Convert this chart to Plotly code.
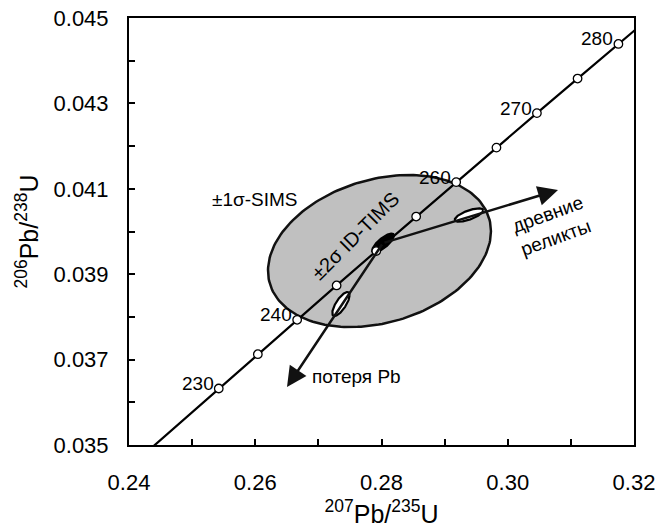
import numpy as np
import plotly.graph_objects as go

# ---- data ----
# Concordia curve: age (Ma), 207Pb/235U, 206Pb/238U
conc_age = [220, 230, 235, 240, 245, 250, 255, 260, 265, 270, 275, 280, 285]
conc_x = [0.24191, 0.25422, 0.26041, 0.26664, 0.27289, 0.27917, 0.28549,
          0.29183, 0.29821, 0.30462, 0.31106, 0.31753, 0.32404]
conc_y = [0.034717, 0.036323, 0.037127, 0.037932, 0.038737, 0.039542, 0.040350,
          0.041157, 0.041965, 0.042773, 0.043582, 0.044392, 0.045203]
marker_ages = [230, 235, 240, 245, 250, 255, 260, 265, 270, 275, 280]
label_ages = [230, 240, 260, 270, 280]

# Error ellipses: centre x, centre y, sigma x, sigma y, rho
sims_ell = [0.27968, 0.039543, 0.01766, 0.00178, 0.26]
tims_ell = [0.28024, 0.03973, 0.001774, 0.0002295, 0.767]
relic_ell = [0.29386, 0.040386, 0.00225, 0.000156, 0.697]
loss_ell = [0.27358, 0.038302, 0.001378, 0.000282, 0.746]

# Arrow tips
relic_tip = [0.30796, 0.040972]
loss_tip = [0.26503, 0.036358]

x_ticks = [0.24, 0.26, 0.28, 0.30, 0.32]
y_ticks = [0.035, 0.037, 0.039, 0.041, 0.043, 0.045]

FONT = "Liberation Sans, Arial, sans-serif"


def ellipse_pts(e, n=200):
    cx, cy, sx, sy, rho = e
    t = np.linspace(0, 2 * np.pi, n)
    xs = cx + sx * np.cos(t)
    ys = cy + sy * (rho * np.cos(t) + np.sqrt(1 - rho ** 2) * np.sin(t))
    return xs, ys


fig = go.Figure()

# big SIMS ellipse
xs, ys = ellipse_pts(sims_ell)
fig.add_trace(go.Scatter(x=xs, y=ys, mode="lines", fill="toself",
                         fillcolor="rgb(192,192,192)",
                         line=dict(color="#111", width=2.5), hoverinfo="skip"))

# concordia line
fig.add_trace(go.Scatter(x=conc_x, y=conc_y, mode="lines",
                         line=dict(color="#000", width=2.2), hoverinfo="skip"))

# small ellipses (white)
for e in (relic_ell, loss_ell):
    xs, ys = ellipse_pts(e)
    fig.add_trace(go.Scatter(x=xs, y=ys, mode="lines", fill="toself",
                             fillcolor="white",
                             line=dict(color="#000", width=2.2), hoverinfo="skip"))
# black TIMS ellipse
xs, ys = ellipse_pts(tims_ell)
fig.add_trace(go.Scatter(x=xs, y=ys, mode="lines", fill="toself",
                         fillcolor="#000",
                         line=dict(color="#000", width=1.5), hoverinfo="skip"))

# concordia markers
mx = [conc_x[conc_age.index(a)] for a in marker_ages]
my = [conc_y[conc_age.index(a)] for a in marker_ages]
fig.add_trace(go.Scatter(x=mx, y=my, mode="markers",
                         marker=dict(symbol="circle", size=8.5, color="white",
                                     line=dict(color="#000", width=1.3)),
                         hoverinfo="skip"))

annotations = []
# age labels
for a in label_ages:
    i = conc_age.index(a)
    annotations.append(dict(x=conc_x[i], y=conc_y[i], xref="x", yref="y",
                            text=str(a), showarrow=False, xanchor="right",
                            yanchor="middle", xshift=-3, yshift=5,
                            font=dict(family=FONT, size=19, color="#000")))

# arrows
for tip in (relic_tip, loss_tip):
    annotations.append(dict(x=tip[0], y=tip[1], ax=tims_ell[0], ay=tims_ell[1],
                            xref="x", yref="y", axref="x", ayref="y",
                            text="", showarrow=True, arrowhead=2,
                            arrowsize=1.6, arrowwidth=2.5, arrowcolor="#111",
                            standoff=0, startstandoff=0))

annotations += [
    dict(x=0.25996, y=0.040738, xref="x", yref="y", text="±1σ-SIMS",
         showarrow=False, font=dict(family=FONT, size=19, color="#000")),
    dict(x=0.27580, y=0.039895, xref="x", yref="y", text="±2σ ID-TIMS",
         showarrow=False, textangle=-45,
         font=dict(family=FONT, size=20, color="#000")),
    dict(x=0.30701, y=0.040129, xref="x", yref="y", text="древние<br>реликты",
         showarrow=False, textangle=-20, align="left",
         font=dict(family=FONT, size=19, color="#000")),
    dict(x=0.26867, y=0.036616, xref="x", yref="y", text="потеря Pb",
         showarrow=False, xanchor="left",
         font=dict(family=FONT, size=19, color="#000")),
]

fig.update_layout(
    width=661, height=528,
    margin=dict(l=129, r=27, t=18, b=83),
    plot_bgcolor="white", paper_bgcolor="white",
    showlegend=False,
    annotations=annotations,
    font=dict(family=FONT, color="#000"),
)
fig.update_xaxes(range=[0.24, 0.32], tickvals=x_ticks, tickformat=".2f",
                 ticks="inside", ticklen=6, tickwidth=1.5, tickcolor="#000",
                 minor=dict(dtick=0.01, ticks="inside", ticklen=6, tickwidth=1.5,
                            tickcolor="#000", showgrid=False),
                 showline=True, linecolor="#000", linewidth=2, mirror=True,
                 showgrid=False, zeroline=False, automargin=False,
                 tickfont=dict(family=FONT, size=22, color="#000"),
                 ticklabelstandoff=17,
                 title=dict(text="<sup>207</sup>Pb/<sup>235</sup>U",
                            font=dict(family=FONT, size=25, color="#000"),
                            standoff=12))
fig.update_yaxes(range=[0.035, 0.045], tickvals=y_ticks, tickformat=".3f",
                 ticks="inside", ticklen=6, tickwidth=1.5, tickcolor="#000",
                 minor=dict(dtick=0.001, ticks="inside", ticklen=6, tickwidth=1.5,
                            tickcolor="#000", showgrid=False),
                 showline=True, linecolor="#000", linewidth=2, mirror=True,
                 showgrid=False, zeroline=False, automargin=False,
                 tickfont=dict(family=FONT, size=22, color="#000"),
                 ticklabelstandoff=14,
                 title=dict(text="<sup>206</sup>Pb/<sup>238</sup>U",
                            font=dict(family=FONT, size=25, color="#000"),
                            standoff=8))

fig.write_html("out.html")
